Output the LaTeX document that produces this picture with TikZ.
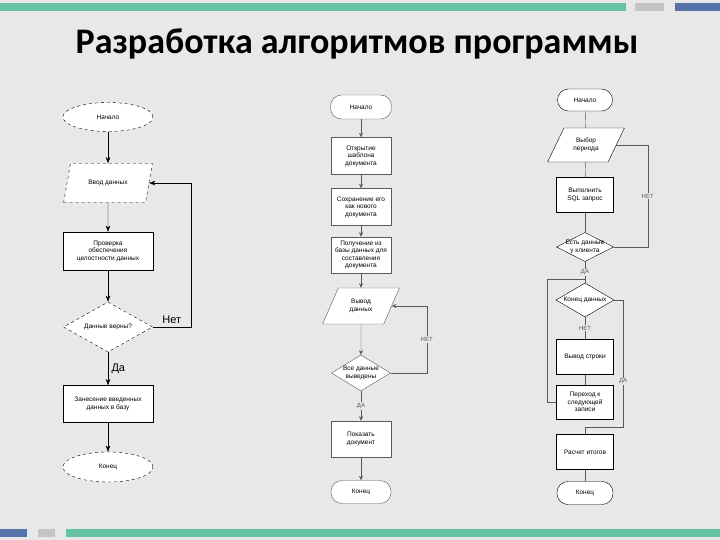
\documentclass[tikz,border=0pt]{standalone}
\usepackage{fontspec}
\setmainfont{Liberation Sans}
\newfontfamily\titlefont{Carlito}
\usetikzlibrary{arrows.meta, shapes.geometric}
\definecolor{bgc}{RGB}{232,232,232}
\definecolor{tealbar}{RGB}{102,194,165}
\definecolor{bluebar}{RGB}{86,116,170}
\definecolor{graybar}{RGB}{196,196,196}
\definecolor{lnc}{RGB}{90,90,90}

\begin{document}
\begin{tikzpicture}[x=1pt, y=-1pt,
  font=\fontsize{6.5}{7.5}\selectfont,
  term/.style={ellipse, draw, dashed, fill=white, minimum width=90pt,
    minimum height=29pt, inner sep=1pt},
  io/.style={trapezium, draw, fill=white, trapezium stretches=true,
    align=center, inner sep=1pt},
  proc/.style={rectangle, draw, fill=white, align=center, inner sep=1pt},
  cond/.style={diamond, draw, fill=white, align=center, inner sep=0pt, aspect=2},
  pill/.style={rectangle, rounded corners=11pt, draw, fill=white, align=center},
  arr/.style={-{Stealth[length=2.2mm, width=1.6mm]}},
  marr/.style={-{Stealth[length=1.6mm, width=1.4mm]}, lnc},
  lbl/.style={fill=bgc, inner sep=1pt, font=\fontsize{6}{7}\selectfont}
]
% background and bars
\fill[bgc] (0,0) rectangle (720,540);
\fill[tealbar] (0,3) rectangle (626,11);
\fill[graybar] (635,3) rectangle (664,11);
\fill[bluebar] (675,3) rectangle (720,11);
\fill[bluebar] (0,529) rectangle (27,537);
\fill[graybar] (38,529) rectangle (55,537);
\fill[tealbar] (66,529) rectangle (720,537);
\node (title) at (357,44) {\titlefont\bfseries\fontsize{36}{40}\selectfont Разработка алгоритмов программы};

% left chart
\node[term] (nach) at (108,117) {Начало};
\node[io, dashed, minimum width=89pt, minimum height=39pt,
  trapezium left angle=64, trapezium right angle=116] (vvod) at (108,183) {Ввод данных};
\node[proc, minimum width=90pt, minimum height=38pt] (prov) at (108,251)
  {Проверка\\ обеспечения\\ целостности данных};
\node[cond, dashed, minimum width=89pt, minimum height=50pt] (dv) at (108,327) {Данные верны?};
\node[proc, minimum width=90pt, minimum height=37pt] (zan) at (108,404)
  {Занесение введенных\\ данных в базу};
\node[term, minimum height=30pt] (kon) at (108,467) {Конец};
\draw[arr] (nach) -- (vvod);
\draw[arr] (vvod) -- (prov);
\draw[arr] (prov) -- (dv);
\draw[arr] (dv) -- node[right, font=\fontsize{11}{12}\selectfont]{Да} (zan);
\draw[arr] (zan) -- (kon);
\draw[arr] (dv.east) -- node[above, font=\fontsize{11}{12}\selectfont]{Нет} ++(38,0) |- (vvod.east);

% middle chart
\begin{scope}[draw=lnc]
\node[pill, minimum width=61pt, minimum height=24pt] (mnach) at (361,107) {Начало};
\node[proc, minimum width=60pt, minimum height=37pt] (otkr) at (361,156)
  {Открытие\\ шаблона\\ документа};
\node[proc, minimum width=60pt, minimum height=37pt] (sohr) at (361,207)
  {Сохранение его\\ как нового\\ документа};
\node[proc, minimum width=60pt, minimum height=36pt] (pol) at (361,255)
  {Получение из\\ базы данных для\\ составления\\ документа};
\node[io, minimum width=77pt, minimum height=36pt,
  trapezium left angle=61, trapezium right angle=119] (mvyv) at (361,306) {Вывод\\ данных};
\node[cond, aspect=1.6, minimum width=59pt, minimum height=36pt] (vse) at (361,373)
  {Все данные\\ выведены};
\node[proc, minimum width=60pt, minimum height=36pt] (pok) at (361,439) {Показать\\ документ};
\node[pill, minimum width=60pt, minimum height=23pt] (mkon) at (361,492) {Конец};
\end{scope}
\draw[marr] (mnach) -- (otkr);
\draw[marr] (otkr) -- (sohr);
\draw[marr] (sohr) -- (pol);
\draw[marr] (pol) -- (mvyv);
\draw[marr] (mvyv) -- (vse);
\draw[marr] (vse) -- node[lbl]{ДА} (pok);
\draw[marr] (pok) -- (mkon);
\draw[marr] (vse.east) -- ++(36,0) |- node[lbl, pos=0.25]{НЕТ} (mvyv.east);

% right chart
\node[pill, minimum width=55pt, minimum height=22pt] (rnach) at (585,100) {Начало};
\node[io, minimum width=77pt, minimum height=34pt,
  trapezium left angle=57, trapezium right angle=123] (vyb) at (586,145) {Выбор\\ периода};
\node[proc, minimum width=57pt, minimum height=35pt] (sql) at (585,195) {Выполнить\\ SQL запрос};
\node[cond, inner xsep=-8pt, minimum width=57pt, minimum height=29pt] (est) at (585,247)
  {Есть данные\\ у клиента};
\node[cond, minimum width=58pt, minimum height=34pt] (kd) at (585,300) {Конец данных};
\node[proc, minimum width=57pt, minimum height=35pt] (vs) at (585,357) {Вывод строки};
\node[proc, minimum width=57pt, minimum height=34pt] (per) at (585,402)
  {Переход к\\ следующей\\ записи};
\node[proc, minimum width=57pt, minimum height=35pt] (itog) at (585,452) {Расчет итогов};
\node[pill, minimum width=56pt, minimum height=23pt] (rkon) at (585,493) {Конец};
\coordinate (jn) at (585,279);
\coordinate (jn2) at (585,427);
\draw[lnc] (rnach) -- (vyb);
\draw[lnc] (vyb) -- (sql);
\draw[lnc] (sql) -- (est);
\draw[lnc] (est) -- node[lbl]{ДА} (kd);
\draw[lnc] (kd) -- node[lbl]{НЕТ} (vs);
\draw[lnc] (vs) -- (per);
\draw[lnc] (itog) -- (rkon);
\draw[lnc] (est.east) -- ++(34,0) |- node[lbl, pos=0.25]{НЕТ} (vyb.east);
\draw[lnc] (per.west) -- ++(-9,0) |- (jn);
\draw[lnc] (kd.east) -- ++(9,0) |- node[lbl, pos=0.32]{ДА} (jn2) -- (itog);
\end{tikzpicture}
\end{document}
